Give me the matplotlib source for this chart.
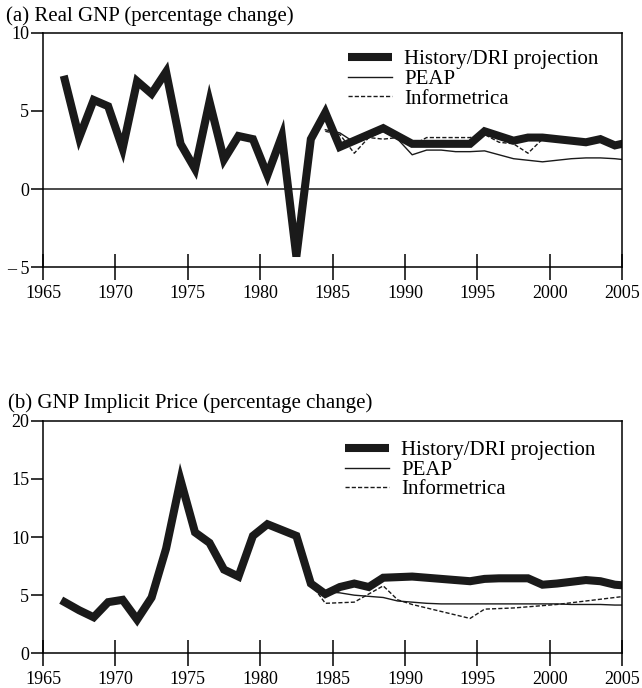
import numpy as np
import matplotlib.pyplot as plt
from matplotlib.lines import Line2D

plt.rcParams['font.family'] = ['Liberation Serif', 'DejaVu Serif']

# ---- data (annual values, plotted at mid-year) ----
years_hist = np.arange(1966, 2006)

gnp_hist = [7.0, 3.3, 5.7, 5.3, 2.6, 6.9, 6.1, 7.5, 2.9, 1.3,
            5.6, 1.9, 3.4, 3.2, 0.9, 3.4, -4.3, 3.2, 4.9, 2.7,
            3.1, 3.5, 3.9, 3.4, 2.9, 2.9, 2.9, 2.9, 2.9, 3.7,
            3.4, 3.1, 3.3, 3.3, 3.2, 3.1, 3.0, 3.2, 2.8, 3.0]

years_proj = np.arange(1984, 2006)
gnp_peap = [3.8, 3.6, 3.0, 3.3, 3.7, 3.2, 2.2, 2.5, 2.5, 2.4, 2.4,
            2.45, 2.2, 1.95, 1.85, 1.75, 1.85, 1.95, 2.0, 2.0, 1.95, 1.85]
gnp_info = [3.7, 3.5, 2.3, 3.3, 3.2, 3.3, 2.8, 3.3, 3.3, 3.3, 3.3,
            3.5, 3.0, 2.9, 2.3, 3.2, 3.3, 3.2, 3.1, 3.2, 2.9, 3.0]

price_hist = [4.4, 3.7, 3.1, 4.4, 4.6, 2.9, 4.8, 9.0, 14.9, 10.4,
              9.5, 7.2, 6.6, 10.1, 11.1, 10.6, 10.1, 6.0, 5.1, 5.7,
              6.0, 5.7, 6.5, 6.55, 6.6, 6.5, 6.4, 6.3, 6.2, 6.4,
              6.45, 6.45, 6.45, 5.9, 6.0, 6.15, 6.3, 6.2, 5.9, 5.8]

years_proj_b = np.arange(1983, 2006)
price_peap = [6.0, 5.3, 5.2, 5.0, 4.9, 4.8, 4.5, 4.4, 4.3, 4.25, 4.25, 4.25,
              4.25, 4.25, 4.25, 4.25, 4.25, 4.25, 4.2, 4.2, 4.2, 4.15, 4.15]
price_info = [6.0, 4.3, 4.35, 4.4, 5.1, 5.8, 4.6, 4.2, 3.9, 3.6, 3.3, 3.0,
              3.8, 3.85, 3.9, 4.0, 4.1, 4.2, 4.35, 4.5, 4.65, 4.8, 4.95]

xticks = [1965, 1970, 1975, 1980, 1985, 1990, 1995, 2000, 2005]
labels = ['History/DRI projection', 'PEAP', 'Informetrica']

fig = plt.figure(figsize=(6.42, 6.88), dpi=100)
ax1 = fig.add_axes([0.067, 0.6112, 0.902, 0.3413])
ax2 = fig.add_axes([0.067, 0.0504, 0.902, 0.3381])


def style(ax, yticks, ylabels, ylim):
    ax.set_xlim(1965, 2005)
    ax.set_ylim(*ylim)
    ax.set_xticks(xticks)
    ax.set_yticks(yticks)
    ax.set_yticklabels(ylabels)
    ax.tick_params(axis='x', direction='inout', length=19, width=1.1,
                   pad=3, labelsize=13)
    ax.tick_params(axis='y', direction='out', length=9, width=1.1,
                   pad=1, labelsize=13)
    for s in ax.spines.values():
        s.set_linewidth(1.1)


def draw(ax, xh, h, xp, p, i, anchor):
    ax.plot(xh + 0.5, h, color='#1a1a1a', lw=5.8, solid_joinstyle='miter')
    ax.plot(xp + 0.5, p, color='#1a1a1a', lw=1.0)
    ax.plot(xp + 0.5, i, color='#1a1a1a', lw=1.0, dashes=(3, 1.5))
    handles = [Line2D([], [], color='#1a1a1a', lw=5.8, solid_capstyle='butt'),
               Line2D([], [], color='#1a1a1a', lw=1.0),
               Line2D([], [], color='#1a1a1a', lw=1.0, dashes=(3, 1.5))]
    ax.legend(handles, labels, loc='upper left', bbox_to_anchor=anchor,
              frameon=False, fontsize=15, handlelength=2.1,
              handletextpad=0.6, labelspacing=0.0, borderpad=0,
              borderaxespad=0)


style(ax1, [-5, 0, 5, 10], ['\u2013 5', '0', '5', '10'], (-5, 10))
ax1.axhline(0, color='#1a1a1a', lw=1.1)
draw(ax1, years_hist, gnp_hist, years_proj, gnp_peap, gnp_info,
     (0.527, 0.927))

style(ax2, [0, 5, 10, 15, 20], ['0', '5', '10', '15', '20'], (0, 20))
draw(ax2, years_hist, price_hist, years_proj_b, price_peap, price_info,
     (0.5216, 0.914))

fig.text(0.009, 1 - 21 / 688, '(a) Real GNP (percentage change)',
         fontsize=15, va='baseline', ha='left')
fig.text(0.012, 1 - 408 / 688, '(b) GNP Implicit Price (percentage change)',
         fontsize=15, va='baseline', ha='left')

plt.savefig('out.png', dpi=100)
